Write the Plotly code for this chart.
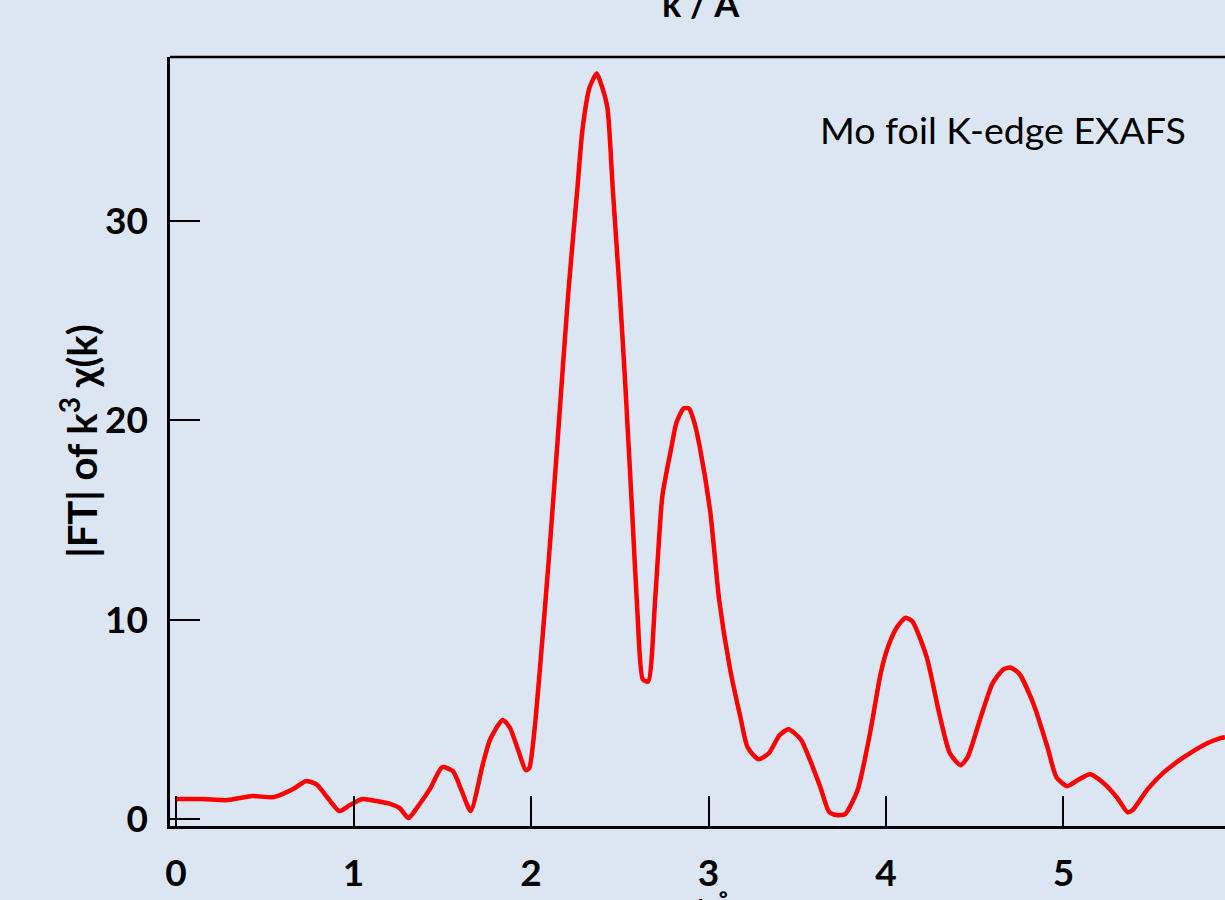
import plotly.graph_objects as go

# |FT| of k^3-weighted chi(k) for Mo foil, read as (r, magnitude) pairs
r_values = [
    0.00, 0.15, 0.29, 0.43, 0.55, 0.66, 0.73, 0.79, 0.86, 0.92, 0.98, 1.05, 1.13, 1.21,
    1.26, 1.31, 1.36, 1.43, 1.50, 1.56, 1.61, 1.66, 1.73, 1.77, 1.84, 1.88, 1.93, 1.97,
    1.99, 2.02, 2.05, 2.10, 2.15, 2.21, 2.26, 2.29, 2.33, 2.37, 2.39, 2.43, 2.46, 2.50,
    2.53, 2.57, 2.60, 2.63, 2.66, 2.70, 2.74, 2.79, 2.82, 2.86, 2.89, 2.92, 2.95, 3.01,
    3.06, 3.12, 3.18, 3.22, 3.28, 3.34, 3.40, 3.45, 3.52, 3.57, 3.63, 3.68, 3.72, 3.77,
    3.84, 3.91, 3.97, 4.01, 4.06, 4.11, 4.15, 4.23, 4.30, 4.36, 4.42, 4.46, 4.53, 4.60,
    4.66, 4.70, 4.75, 4.83, 4.91, 4.96, 5.02, 5.08, 5.15, 5.22, 5.30, 5.36, 5.39, 5.47,
    5.56, 5.67, 5.81, 5.88, 5.91,
]
ft_magnitude = [
    1.00, 1.00, 0.95, 1.15, 1.10, 1.50, 1.90, 1.75, 1.00, 0.40, 0.70, 1.00, 0.90, 0.75,
    0.55, 0.05, 0.60, 1.50, 2.60, 2.40, 1.40, 0.40, 2.80, 4.00, 4.97, 4.60, 3.40, 2.45,
    2.55, 4.50, 7.50, 13.0, 19.0, 26.4, 31.5, 34.6, 36.7, 37.4, 37.0, 35.7, 31.7, 26.4,
    22.0, 15.4, 10.3, 7.00, 6.90, 11.1, 16.2, 18.6, 19.9, 20.6, 20.6, 19.9, 18.7, 15.4,
    11.0, 7.60, 5.10, 3.60, 3.00, 3.30, 4.20, 4.50, 4.00, 3.00, 1.60, 0.35, 0.20, 0.25,
    1.45, 4.30, 7.30, 8.60, 9.60, 10.1, 9.90, 8.10, 5.30, 3.30, 2.70, 3.10, 5.00, 6.80,
    7.50, 7.60, 7.30, 5.80, 3.60, 2.10, 1.65, 1.95, 2.25, 1.85, 1.10, 0.35, 0.45, 1.45,
    2.30, 3.05, 3.80, 4.05, 4.10,
]

x_ticks = [0, 1, 2, 3, 4, 5]
y_ticks = [0, 10, 20, 30]

BG = "#dce6f2"
FONT = "Lato"

fig = go.Figure()
fig.add_trace(go.Scatter(
    x=r_values, y=ft_magnitude, mode="lines",
    line=dict(color="#ff0000", width=4.5, shape="spline", smoothing=0.6),
    showlegend=False, hoverinfo="skip",
))

axis_common = dict(
    showgrid=False, zeroline=False, showline=True, linecolor="black", linewidth=2.5,
    ticks="inside", ticklen=30, tickwidth=2, tickcolor="black",
    tickfont=dict(family=FONT, size=37, color="black", weight=700),
)

fig.update_xaxes(range=[-0.034, 5.91], tickvals=x_ticks, ticklabelstandoff=13, **axis_common)
fig.update_yaxes(range=[-0.35, 38.23], tickvals=y_ticks, ticklabelstandoff=12, **axis_common)

# top frame edge (the plot runs off the right side, so no right edge)
fig.add_shape(type="line", xref="paper", yref="paper", x0=0, x1=1, y0=1, y1=1,
              line=dict(color="black", width=2.5), layer="above")

fig.add_annotation(text="Mo foil K-edge EXAFS", xref="paper", yref="y",
                   x=0.614, y=34.6, xanchor="left", yanchor="middle", showarrow=False,
                   font=dict(family=FONT, size=37.5, color="black"))

fig.add_annotation(text="k / Å", xref="x", yref="paper", x=2.96, y=1.07,
                   xanchor="center", yanchor="middle", showarrow=False,
                   font=dict(family=FONT, size=36, color="black", weight=700))

fig.add_annotation(text="r / Å", xref="x", yref="paper", x=2.96, y=-0.112,
                   xanchor="center", yanchor="middle", showarrow=False,
                   font=dict(family=FONT, size=36, color="black", weight=700))

fig.add_annotation(text="|FT| of k<sup>3</sup> χ(k)", xref="paper", yref="paper",
                   x=-0.087, y=0.50, xanchor="center", yanchor="middle", textangle=-90,
                   showarrow=False, font=dict(family=FONT, size=40, color="black", weight=700))

fig.update_layout(
    width=1225, height=900,
    margin=dict(l=170, r=0, t=57, b=74),
    paper_bgcolor=BG, plot_bgcolor=BG,
)

fig.write_html("out.html")
